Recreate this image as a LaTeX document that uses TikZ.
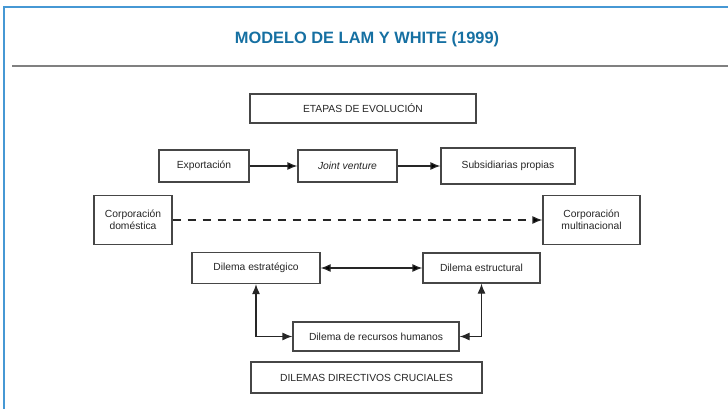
\documentclass[tikz,border=0pt]{standalone}
\usepackage{fontspec}
\setmainfont{Liberation Sans}
\usepackage{tikz}
\usetikzlibrary{arrows.meta}
\definecolor{framblue}{RGB}{70,152,212}
\definecolor{titblue}{RGB}{22,112,162}
\definecolor{boxline}{RGB}{70,70,70}
\tikzset{
  caja/.style={draw=boxline,line width=1.2pt,fill=white,inner sep=2pt,
    font=\fontsize{10.3}{11.8}\selectfont,text=black!85,align=center},
  flecha/.style={line width=1.2pt,draw=black!85}
}

\begin{document}
\begin{tikzpicture}[x=1pt,y=-1pt,>={Latex[length=10pt,width=8pt]}]
      \useasboundingbox (0,0) rectangle (728,409);
      % marco y titulo
      \draw[framblue,line width=2pt] (4,409) -- (4,7) -- (728,7);
      \node(titulo) at (367,39) {\fontsize{16.4}{18}\selectfont\bfseries\color{titblue}MODELO DE LAM Y WHITE (1999)};
      \draw[black!50,line width=2.5pt] (12,66) -- (728,66);
      % etapas
      \node[caja,minimum width=226pt,minimum height=29pt](etapas) at (363,108.5) {ETAPAS DE EVOLUCIÓN};
      \node[caja,minimum width=90pt,minimum height=32pt](expo) at (204,166) {Exportación};
      \node[caja,minimum width=99pt,minimum height=32pt](joint) at (347.5,166) {\itshape Joint venture};
      \node[caja,minimum width=134pt,minimum height=36pt](subs) at (508,166) {Subsidiarias propias};
      \node[caja,minimum width=78pt,minimum height=49pt](dom) at (133,220) {Corporación\\doméstica};
      \node[caja,minimum width=97pt,minimum height=49pt](multi) at (591.5,220) {Corporación\\multinacional};
      % dilemas
      \node[caja,minimum width=128pt,minimum height=31pt](estrat) at (256,268) {Dilema estratégico};
      \node[caja,minimum width=117pt,minimum height=30pt](estruc) at (481.5,268) {Dilema estructural};
      \node[caja,minimum width=166pt,minimum height=29pt](rrhh) at (376,336.5) {Dilema de recursos humanos};
      \node[caja,minimum width=231pt,minimum height=31pt](dilemas) at (366.5,377.5) {DILEMAS DIRECTIVOS CRUCIALES};
      \path[flecha,->] (expo) edge (joint);
      \path[flecha,->] (joint) edge (subs);
      \path[flecha,->,dashed,dash pattern=on 8pt off 7pt] (dom) edge (multi);
      \path[flecha,<->] (estrat) edge (estruc);
      \draw[flecha,<->] (estrat) |- (rrhh);
      \draw[flecha,<->] (estruc) |- (rrhh);
    \end{tikzpicture}
\end{document}
